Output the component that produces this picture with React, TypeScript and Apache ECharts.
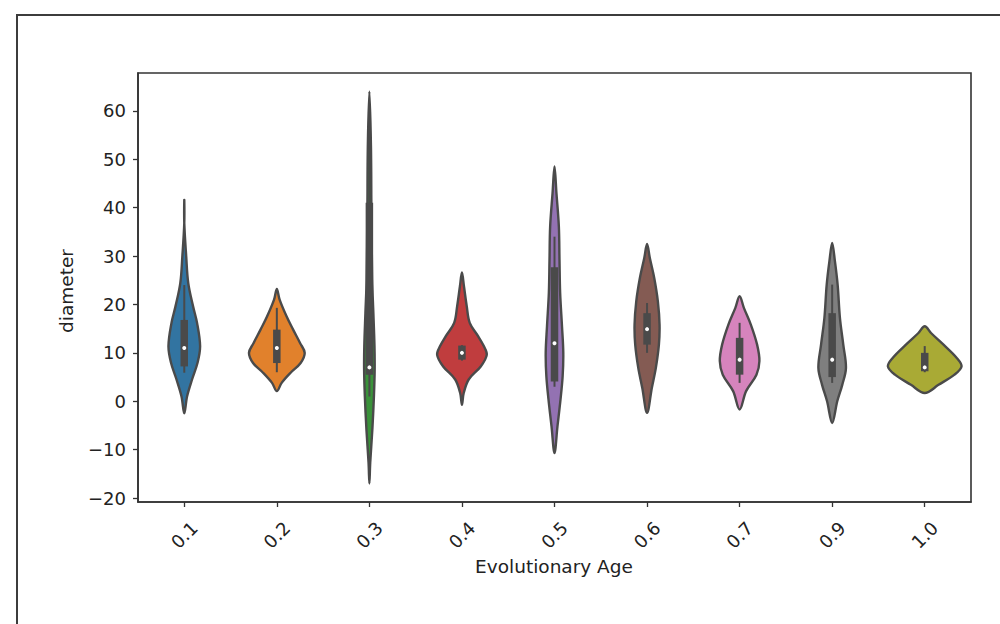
import React, { useEffect, useRef } from 'react';
import * as echarts from 'echarts';

const categories = ['0.1', '0.2', '0.3', '0.4', '0.5', '0.6', '0.7', '0.9', '1.0'];
const violinColors = ['#3274a1', '#e1812c', '#3a923a', '#c03d3e', '#9372b2', '#845b53', '#d684bd', '#7f7f7f', '#a9aa35'];

// density profile of each violin: y values and half-width (fraction of category band)
const profileY: number[][] = [
  [41.6, 36.8, 29.9, 24.4, 19.6, 16.2, 11.4, 8.0, 4.5, 1.0, -2.5],
  [23.2, 21.0, 17.5, 14.8, 12.0, 10.0, 7.9, 5.9, 3.8, 2.1],
  [64.0, 52.6, 38.9, 25.1, 18.2, 11.4, 6.5, 1.0, -5.8, -12.7, -17.0],
  [26.6, 23.7, 19.6, 16.2, 13.4, 11.4, 9.6, 7.2, 4.5, 1.7, -0.7],
  [48.5, 43.0, 36.1, 29.2, 22.4, 15.5, 10.0, 5.2, 0.4, -5.2, -10.7],
  [32.5, 29.6, 25.5, 20.6, 15.8, 11.7, 6.9, 2.8, -2.4],
  [21.7, 19.3, 15.8, 11.7, 8.3, 5.5, 2.1, -1.7],
  [32.7, 28.9, 24.1, 17.2, 11.7, 6.9, 3.4, 0.0, -4.5],
  [15.5, 14.1, 11.7, 9.0, 7.2, 5.5, 3.4, 1.7],
];
const profileWidth: number[][] = [
  [0, 0.013, 0.034, 0.056, 0.108, 0.151, 0.184, 0.157, 0.097, 0.043, 0],
  [0, 0.043, 0.119, 0.189, 0.265, 0.314, 0.27, 0.162, 0.065, 0],
  [0, 0.03, 0.035, 0.043, 0.056, 0.068, 0.07, 0.062, 0.045, 0.022, 0],
  [0, 0.035, 0.065, 0.097, 0.189, 0.249, 0.281, 0.216, 0.086, 0.032, 0],
  [0, 0.034, 0.06, 0.067, 0.074, 0.094, 0.108, 0.101, 0.078, 0.045, 0],
  [0, 0.043, 0.09, 0.13, 0.148, 0.141, 0.108, 0.065, 0],
  [0, 0.059, 0.135, 0.202, 0.227, 0.195, 0.083, 0],
  [0, 0.043, 0.072, 0.097, 0.133, 0.162, 0.122, 0.068, 0],
  [0, 0.081, 0.216, 0.357, 0.411, 0.335, 0.162, 0],
];

// inner box statistics
const whiskerLow = [5.9, 6.0, 1.0, 8.4, 3.0, 10.0, 3.8, 3.8, 6.0];
const q1 = [7.2, 7.9, 5.5, 8.6, 4.1, 11.7, 5.5, 5.0, 6.2];
const median = [11.0, 11.0, 7.0, 10.0, 12.0, 14.9, 8.6, 8.6, 7.0];
const q3 = [16.8, 14.8, 41.0, 11.5, 27.7, 18.2, 13.1, 18.2, 10.0];
const whiskerHigh = [24.0, 19.3, 58.0, 11.6, 34.0, 20.3, 16.2, 24.1, 11.4];

const yTicks = [-20, -10, 0, 10, 20, 30, 40, 50, 60];

export default function App() {
  const ref = useRef<HTMLDivElement>(null);
  useEffect(() => {
    document.body.style.margin = '0';
    const chart = echarts.init(ref.current!, null, { renderer: 'svg' });
    const outline = '#4a4a4a';
    const renderItem = (params: any, api: any) => {
      const i = api.value(0);
      const band = api.size([1, 0])[0];
      const ys = profileY[i];
      const ws = profileWidth[i];
      const lw = 2.4;
      const right: number[][] = [];
      const left: number[][] = [];
      for (let k = 0; k < ys.length; k++) {
        const p = api.coord([i, ys[k]]);
        const hw = Math.max(ws[k] * band - lw / 2, 0);
        right.push([p[0] + hw, p[1]]);
        left.push([p[0] - hw, p[1]]);
      }
      const pts = right.concat(left.slice(1, -1).reverse());
      const wl = api.coord([i, whiskerLow[i]]);
      const wh = api.coord([i, whiskerHigh[i]]);
      const b1 = api.coord([i, q1[i]]);
      const b3 = api.coord([i, q3[i]]);
      const md = api.coord([i, median[i]]);
      const boxW = 7.5;
      return {
        type: 'group',
        children: [
          {
            type: 'polygon',
            shape: { points: pts, smooth: 0.35 },
            style: { fill: violinColors[i], stroke: outline, lineWidth: lw },
          },
          {
            type: 'line',
            shape: { x1: wl[0], y1: wl[1], x2: wh[0], y2: wh[1] },
            style: { stroke: outline, lineWidth: 2 },
          },
          {
            type: 'rect',
            shape: { x: b3[0] - boxW / 2, y: b3[1], width: boxW, height: b1[1] - b3[1] },
            style: { fill: outline },
          },
          {
            type: 'circle',
            shape: { cx: md[0], cy: md[1], r: 2 },
            style: { fill: '#ffffff' },
          },
        ],
      };
    };
    chart.setOption({
      animation: false,
      grid: {
        left: 138, top: 73, width: 833, height: 429,
        show: true, borderColor: '#333', borderWidth: 1.6, backgroundColor: '#fff',
      },
      xAxis: {
        type: 'category',
        data: categories,
        boundaryGap: true,
        axisLine: { show: true, onZero: false, lineStyle: { color: '#333', width: 1.6 } },
        axisTick: { show: true, alignWithLabel: true, length: 5, lineStyle: { color: '#333', width: 1.3 } },
        axisLabel: {
          rotate: 45, align: 'center', verticalAlign: 'middle', margin: 33,
          fontFamily: 'DejaVu Sans', fontSize: 18, color: '#222',
        },
        splitLine: { show: false },
      },
      yAxis: {
        type: 'value',
        min: -20.8,
        max: 67.8,
        axisLine: { show: true, lineStyle: { color: '#333', width: 1.6 } },
        axisTick: { show: true, length: 5, customValues: yTicks, lineStyle: { color: '#333', width: 1.3 } },
        axisLabel: {
          customValues: yTicks, margin: 12,
          fontFamily: 'DejaVu Sans', fontSize: 18, color: '#222',
          formatter: (v: number) => String(v).replace('-', '\u2212'),
        },
        splitLine: { show: false },
      },
      graphic: [
        { type: 'line', shape: { x1: 17, y1: 15, x2: 17, y2: 624 }, style: { stroke: '#3c3c3c', lineWidth: 2 } },
        { type: 'line', shape: { x1: 16, y1: 15, x2: 1000, y2: 15 }, style: { stroke: '#3c3c3c', lineWidth: 2 } },
        {
          type: 'text', x: 66, y: 291, rotation: Math.PI / 2,
          style: { text: 'diameter', fontFamily: 'DejaVu Sans', fontSize: 18.5, fill: '#222', textAlign: 'center', textVerticalAlign: 'middle' },
        },
        {
          type: 'text', x: 554, y: 566,
          style: { text: 'Evolutionary Age', fontFamily: 'DejaVu Sans', fontSize: 18.5, fill: '#222', textAlign: 'center', textVerticalAlign: 'middle' },
        },
      ],
      series: [
        {
          type: 'custom',
          renderItem,
          data: categories.map((c, i) => [i, median[i]]),
          encode: { x: 0, y: 1 },
        },
      ],
    });
    return () => chart.dispose();
  }, []);
  return <div ref={ref} style={{ width: 1000, height: 624 }} />;
}
